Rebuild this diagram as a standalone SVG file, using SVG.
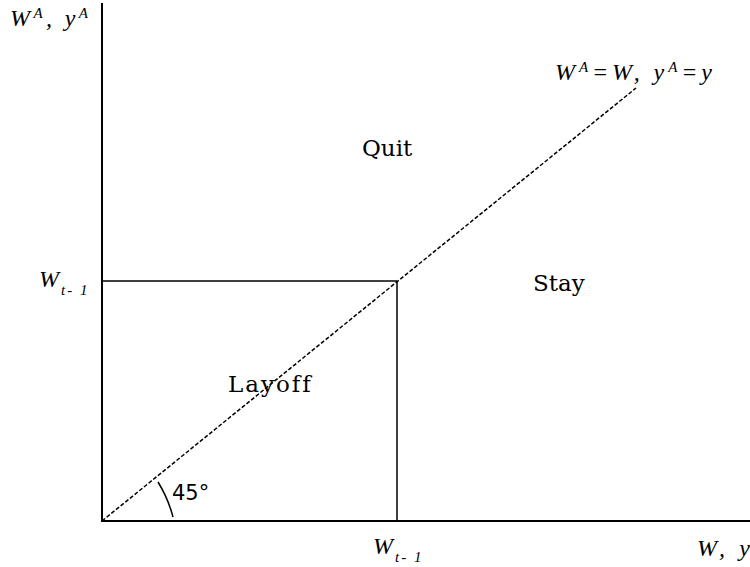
<svg xmlns="http://www.w3.org/2000/svg" width="750" height="567" viewBox="0 0 750 567">
<style>
.ax{stroke:#000;stroke-width:2;fill:none}
.ln{stroke:#000;stroke-width:1.5;fill:none}
.ds{stroke:#000;stroke-width:1.5;fill:none;stroke-dasharray:4 2}
.it{font-family:"Liberation Serif",serif;font-style:italic;font-size:24px;fill:#000}
.sb{font-size:15px}
.sp{font-size:15px}
.rg{font-family:"DejaVu Serif",serif;font-size:23px;fill:#000}
.sn{font-family:"DejaVu Sans",sans-serif;font-size:21px;fill:#000}
</style>
<rect width="750" height="567" fill="#fff"/>
<g id="connectors">
<line class="ax" x1="102" y1="3" x2="102" y2="522"/>
<line class="ax" x1="101" y1="521" x2="750" y2="521"/>
<line class="ln" x1="102" y1="281" x2="397" y2="281"/>
<line class="ln" x1="397" y1="281" x2="397" y2="521"/>
<line class="ds" x1="102" y1="521" x2="636" y2="88"/>
<path class="ln" d="M158 482 Q168 498 173 517" stroke-width="1.2"/>
</g>
<g id="ylabel"><text class="it" x="10" y="26" textLength="78" lengthAdjust="spacing">W<tspan class="sp" dy="-8">A</tspan><tspan dy="8">, y</tspan><tspan class="sp" dy="-8">A</tspan></text></g>
<g id="diaglabel"><text class="it" x="555" y="80" textLength="157" lengthAdjust="spacing">W<tspan class="sp" dy="-8">A</tspan><tspan dy="8">=W, y</tspan><tspan class="sp" dy="-8">A</tspan><tspan dy="8">=y</tspan></text></g>
<g id="quit"><text class="rg" x="362" y="156">Quit</text></g>
<g id="stay"><text class="rg" x="533" y="291">Stay</text></g>
<g id="layoff"><text class="rg" x="228" y="392" letter-spacing="2">Layoff</text></g>
<g id="angle"><text class="sn" x="172" y="500">45°</text></g>
<g id="wt1left"><text class="it" x="39" y="287">W<tspan class="sb" dx="2" dy="8" letter-spacing="2">t- 1</tspan></text></g>
<g id="wt1bottom"><text class="it" x="373" y="554">W<tspan class="sb" dx="2" dy="8" letter-spacing="2">t- 1</tspan></text></g>
<g id="xlabel"><text class="it" x="697" y="556" textLength="53" lengthAdjust="spacing">W, y</text></g>
</svg>
